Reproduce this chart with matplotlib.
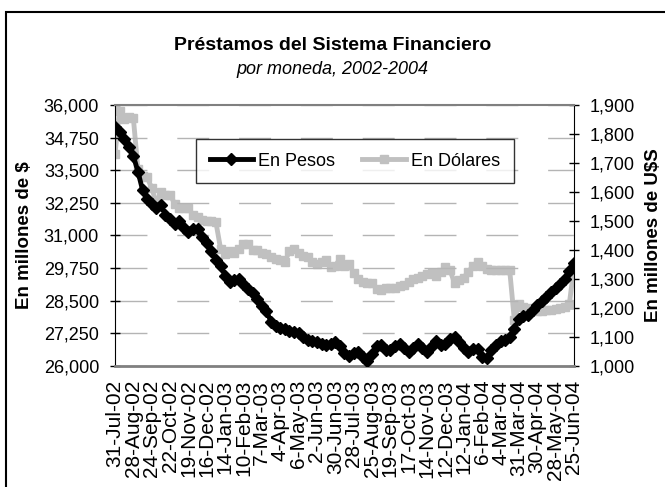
import numpy as np
import matplotlib.pyplot as plt
from matplotlib.patches import Rectangle

# Prestamos del sistema financiero, por moneda
# un valor cada 5 dias habiles desde 31-Jul-02
pesos = [35150, 34950, 34700, 34400, 34050, 33450, 32750, 32400, 32200, 32050,
         32150, 31800, 31650, 31450, 31550, 31300, 31150, 31250, 31250, 30950,
         30700, 30400, 30050, 29850, 29450, 29200, 29300, 29350, 29150, 28950,
         28800, 28550, 28300, 28100, 27700, 27550, 27450, 27400, 27350, 27300,
         27250, 27100, 27000, 26950, 26900, 26850, 26800, 26850, 26900, 26750,
         26500, 26400, 26500, 26550, 26350, 26200, 26450, 26750, 26800, 26600,
         26600, 26750, 26850, 26700, 26550, 26700, 26850, 26700, 26550, 26750,
         26950, 26800, 26850, 27050, 27100, 26900, 26700, 26550, 26650, 26650,
         26350, 26300, 26600, 26800, 26950, 27000, 27100, 27400, 27800, 27900,
         27950, 28150, 28350, 28500, 28650, 28850, 29000, 29150, 29350, 29650,
         29950]

dolares = [1730, 1880, 1850, 1860, 1855, 1680, 1655, 1650, 1615, 1560,
           1600, 1590, 1590, 1560, 1545, 1545, 1545, 1520, 1515, 1505,
           1500, 1500, 1495, 1405, 1385, 1395, 1390, 1405, 1420, 1420,
           1400, 1400, 1390, 1385, 1375, 1370, 1365, 1360, 1395, 1405,
           1390, 1380, 1375, 1360, 1350, 1360, 1365, 1340, 1345, 1370,
           1345, 1350, 1320, 1300, 1290, 1285, 1285, 1265, 1262, 1268,
           1270, 1270, 1275, 1280, 1290, 1300, 1305, 1310, 1318, 1320,
           1310, 1325, 1340, 1330, 1285, 1295, 1305, 1325, 1345, 1360,
           1345, 1335, 1332, 1332, 1330, 1330, 1330, 1160, 1215, 1205,
           1200, 1195, 1188, 1188, 1192, 1193, 1195, 1200, 1203, 1215,
           1340]

fechas = ['31-Jul-02', '28-Aug-02', '24-Sep-02', '22-Oct-02', '19-Nov-02',
          '16-Dec-02', '14-Jan-03', '10-Feb-03', '7-Mar-03', '4-Apr-03',
          '6-May-03', '2-Jun-03', '30-Jun-03', '28-Jul-03', '25-Aug-03',
          '19-Sep-03', '17-Oct-03', '14-Nov-03', '12-Dec-03', '12-Jan-04',
          '6-Feb-04', '4-Mar-04', '31-Mar-04', '30-Apr-04', '28-May-04',
          '25-Jun-04']

plt.rcParams['font.family'] = ['Liberation Sans', 'DejaVu Sans']

dias = np.arange(len(pesos)) * 5          # dia habil de cada valor
pos_fechas = np.arange(len(fechas)) * 20  # una etiqueta cada 20 dias

fig = plt.figure(figsize=(6.65, 4.87), dpi=100)
ax = fig.add_axes([0.1729, 0.2485, 0.6902, 0.5359])
ax2 = ax.twinx()

gris = '#c0c0c0'
l2, = ax2.plot(dias, dolares, color=gris, lw=3.5, marker='s', ms=5.5,
               mec=gris, mfc=gris, zorder=2, label='En Dólares')
l1, = ax.plot(dias, pesos, color='black', lw=3.5, marker='D', ms=6,
              zorder=3, label='En Pesos')
ax.set_zorder(ax2.get_zorder() + 1)
ax.patch.set_visible(False)

ax.set_xlim(0, 500)
ax.set_ylim(26000, 36000)
ax.set_yticks(np.arange(26000, 36001, 1250))
ax.set_yticklabels([f'{v:,}' for v in np.arange(26000, 36001, 1250)])
ax2.set_ylim(1000, 1900)
ax2.set_yticks(np.arange(1000, 1901, 100))
ax2.set_yticklabels([f'{v:,}' for v in np.arange(1000, 1901, 100)])

ax.set_xticks(pos_fechas)
ax.set_xticklabels(fechas, rotation=90, fontsize=15)
ax.tick_params(axis='x', length=0, pad=10)
ax.tick_params(axis='y', direction='inout', length=7, width=1, labelsize=13, pad=8)
ax2.tick_params(axis='y', direction='inout', length=7, width=1, labelsize=13, pad=8)

ax.grid(axis='y', color='#b4b4b4', lw=1, dashes=(23, 21.5))
ax.spines['top'].set_color('#808080')
ax.spines['top'].set_linewidth(1.5)
ax.spines['bottom'].set_color('#808080')
ax.spines['bottom'].set_linewidth(2)
for s in ['top', 'bottom', 'left', 'right']:
    ax2.spines[s].set_visible(False)
ax.spines['right'].set_visible(False)
ax2.spines['right'].set_visible(True)

ax.set_ylabel('En millones de $', fontsize=13.5, fontweight='bold', labelpad=8)
ax2.set_ylabel('En millones de U$S', fontsize=13.5, fontweight='bold',
               rotation=90, labelpad=7)

fig.text(0.5, 1 - 46 / 487, 'Préstamos del Sistema Financiero', ha='center',
         va='center', fontsize=14, fontweight='bold')
fig.text(0.5, 1 - 70 / 487, 'por moneda, 2002-2004', ha='center', va='center',
         fontsize=13, style='italic')

leg = fig.legend(handles=[l1, l2], ncol=2, loc='upper left',
                 bbox_to_anchor=(196 / 665, 1 - 139 / 487), frameon=True,
                 fancybox=False, edgecolor='black', fontsize=13,
                 handlelength=2.4, handletextpad=0.3, columnspacing=1.5,
                 borderpad=0.75, borderaxespad=0)
leg.get_frame().set_linewidth(1)

# marco del grafico (corta por abajo y a la derecha)
fig.patches.append(Rectangle((0.009, -0.05), 1.05, 1.026, transform=fig.transFigure,
                             fill=False, edgecolor='black', lw=1.5))

fig.savefig('out.png', dpi=100)
